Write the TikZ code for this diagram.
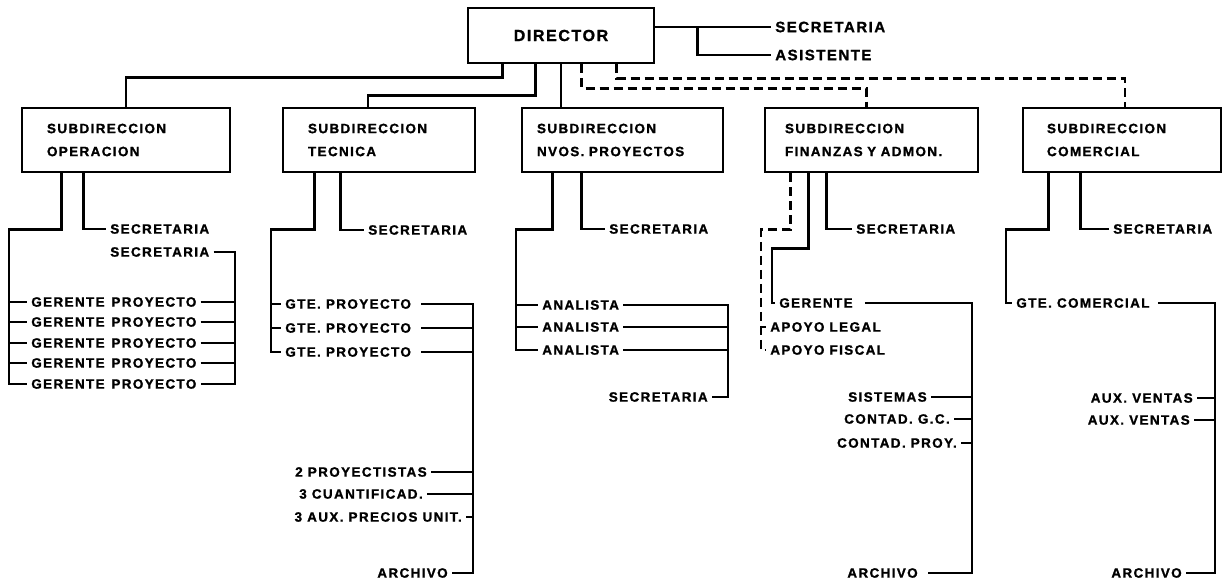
\documentclass[tikz,border=0pt]{standalone}
\usepackage{fontspec}
\setmainfont{Liberation Sans}
\newfontfamily\hand[LetterSpace=10, FakeBold=1.2]{Liberation Sans}
\begin{document}
\begin{tikzpicture}[x=1pt,y=-1pt,
  every path/.style={line width=2.6pt, line join=miter},
  sbox/.style={draw, line width=2.8pt, rectangle, minimum height=64pt, align=left, inner ysep=0pt,
    font=\hand\bfseries\fontsize{13.5}{23}\selectfont},
  lbl/.style={inner xsep=3pt, inner ysep=1pt, font=\hand\bfseries\fontsize{13.5}{16}\selectfont},
  biglbl/.style={lbl, font=\hand\bfseries\fontsize{15}{18}\selectfont},
  dline/.style={dash pattern=on 9pt off 5pt}]
\useasboundingbox (0,0) rectangle (1228,582);
\fill[white] (0,0) rectangle (1228,582);

% ---------- top ----------
\node[draw, line width=2.8pt, minimum width=186pt, minimum height=55pt,
      font=\hand\bfseries\fontsize{16}{19}\selectfont] (dir) at (561,35.5) {DIRECTOR};
\node[biglbl, anchor=west] (secD) at (771,27) {SECRETARIA};
\node[biglbl, anchor=west] (asis) at (771,55) {ASISTENTE};
\path (dir.east |- secD.west) coordinate (dsec);
\draw (dsec) -- (secD.west);
\draw ([xshift=42pt]dsec) |- (asis.west);

% ---------- subdirecciones ----------
\node[sbox, text width=158pt, inner xsep=25pt] (op)   at (126,140)   {SUBDIRECCION\\OPERACION};
\node[sbox, text width=142pt, inner xsep=25pt] (tec)  at (379,140)   {SUBDIRECCION\\TECNICA};
\node[sbox, text width=171pt, inner xsep=15pt] (nvos) at (622.5,140) {SUBDIRECCION\\NVOS. PROYECTOS};
\node[sbox, text width=173pt, inner xsep=20pt] (fin)  at (871.5,140) {SUBDIRECCION\\FINANZAS Y ADMON.};
\node[sbox, text width=150pt, inner xsep=24pt] (com)  at (1122,140)  {SUBDIRECCION\\COMERCIAL};

\draw ([xshift=36pt]dir.south west) -- ++(0,13) -| (op.north);
\draw ([xshift=69pt]dir.south west) -- ++(0,31) -| ([xshift=-11pt]tec.north);
\draw (dir.south) -- (dir.south |- nvos.north);
\draw[dline] ([xshift=115pt]dir.south west) -- ++(0,24) -| ([xshift=-5pt]fin.north);
\draw[dline] ([xshift=150pt]dir.south west) -- ++(0,14) -| ([xshift=3pt]com.north);

% ---------- operacion ----------
\coordinate (opL) at (9,300);
\coordinate (opR) at (235,300);
\node[lbl, anchor=west] (os1) at (106,229) {SECRETARIA};
\node[lbl, anchor=west] (os2) at (106,252) {SECRETARIA};
\foreach \i/\y in {1/302,2/322,3/343,4/363,5/384}
  \node[lbl, anchor=west] (og\i) at (27,\y) {GERENTE\hspace{0.5em}PROYECTO};
\draw ([xshift=41pt]op.south west) -- ++(0,56) -| (og5.west -| opL) -- (og5.west);
\foreach \i in {1,...,4} \draw (og\i.west -| opL) -- (og\i.west);
\draw ([xshift=63pt]op.south west) |- (os1.west);
\draw (os2.east) -| (og5.east -| opR) -- (og5.east);
\foreach \i in {1,...,4} \draw (og\i.east) -- (og\i.east -| opR);

% ---------- tecnica ----------
\coordinate (tecL) at (271,300);
\coordinate (tecR) at (473,300);
\node[lbl, anchor=west] (ts) at (364,230) {SECRETARIA};
\foreach \i/\y in {1/304,2/328,3/352}
  \node[lbl, anchor=west] (tg\i) at (281,\y) {GTE. PROYECTO};
\node[lbl, anchor=east] (tp1) at (431,472) {2 PROYECTISTAS};
\node[lbl, anchor=east] (tp2) at (427,494) {3 CUANTIFICAD.};
\node[lbl, anchor=east] (tp3) at (466,517) {3 AUX. PRECIOS UNIT.};
\node[lbl, anchor=east] (tarch) at (452,573) {ARCHIVO};
\draw ([xshift=33pt]tec.south west) -- ++(0,56) -| (tg3.west -| tecL) -- (tg3.west);
\foreach \i in {1,2} \draw (tg\i.west -| tecL) -- (tg\i.west);
\draw ([xshift=59pt]tec.south west) |- (ts.west);
\draw ([xshift=6pt]tg1.east) -| (tarch.east -| tecR) -- (tarch.east);
\foreach \n in {tg2,tg3} \draw ([xshift=6pt]\n.east) -- (\n.east -| tecR);
\foreach \n in {tp1,tp2,tp3} \draw (\n.east) -- (\n.east -| tecR);

% ---------- nvos. proyectos ----------
\coordinate (nvL) at (516,300);
\coordinate (nvR) at (728,300);
\node[lbl, anchor=west] (ns) at (605,229) {SECRETARIA};
\foreach \i/\y in {1/305,2/327,3/350}
  \node[lbl, anchor=west] (na\i) at (538,\y) {ANALISTA};
\node[lbl, anchor=east] (ns2) at (712,397) {SECRETARIA};
\draw ([xshift=32pt]nvos.south west) -- ++(0,56) -| (na3.west -| nvL) -- (na3.west);
\foreach \i in {1,2} \draw (na\i.west -| nvL) -- (na\i.west);
\draw ([xshift=61pt]nvos.south west) |- (ns.west);
\draw (na1.east) -| (ns2.east -| nvR) -- (ns2.east);
\foreach \i in {2,3} \draw (na\i.east) -- (na\i.east -| nvR);

% ---------- finanzas y admon ----------
\coordinate (fnD) at (761,300);
\coordinate (fnL) at (772,300);
\coordinate (fnR) at (972,300);
\node[lbl, anchor=west] (fs) at (852,229) {SECRETARIA};
\node[lbl, anchor=west] (fg) at (775,303) {GERENTE};
\node[lbl, anchor=west] (fa1) at (766,327) {APOYO LEGAL};
\node[lbl, anchor=west] (fa2) at (766,350) {APOYO FISCAL};
\node[lbl, anchor=east] (fsis) at (931,397) {SISTEMAS};
\node[lbl, anchor=east] (fcg) at (954,419) {CONTAD. G.C.};
\node[lbl, anchor=east] (fcp) at (961,443) {CONTAD. PROY.};
\node[lbl, anchor=east] (farch) at (922,573) {ARCHIVO};
\draw[dline] ([xshift=27pt]fin.south west) -- ++(0,56) -| (fa2.west -| fnD) -- (fa2.west);
\draw (fa1.west -| fnD) -- (fa1.west);
\draw ([xshift=45pt]fin.south west) -- ++(0,75) -| (fg.west -| fnL) -- (fg.west);
\draw ([xshift=63pt]fin.south west) |- (fs.west);
\draw ([xshift=8pt]fg.east) -| (farch.east -| fnR) -- ([xshift=6pt]farch.east);
\foreach \n in {fsis,fcg,fcp} \draw (\n.east) -- (\n.east -| fnR);

% ---------- comercial ----------
\coordinate (cmL) at (1006,300);
\coordinate (cmR) at (1215,300);
\node[lbl, anchor=west] (cs) at (1109,229) {SECRETARIA};
\node[lbl, anchor=west] (cg) at (1012,303) {GTE. COMERCIAL};
\node[lbl, anchor=east] (cv1) at (1197,398) {AUX. VENTAS};
\node[lbl, anchor=east] (cv2) at (1194,420) {AUX. VENTAS};
\node[lbl, anchor=east] (carch) at (1186,573) {ARCHIVO};
\draw ([xshift=27pt]com.south west) -- ++(0,56) -| (cg.west -| cmL) -- (cg.west);
\draw ([xshift=59pt]com.south west) |- (cs.west);
\draw ([xshift=4pt]cg.east) -| (carch.east -| cmR) -- (carch.east);
\foreach \n in {cv1,cv2} \draw (\n.east) -- (\n.east -| cmR);
\end{tikzpicture}
\end{document}
